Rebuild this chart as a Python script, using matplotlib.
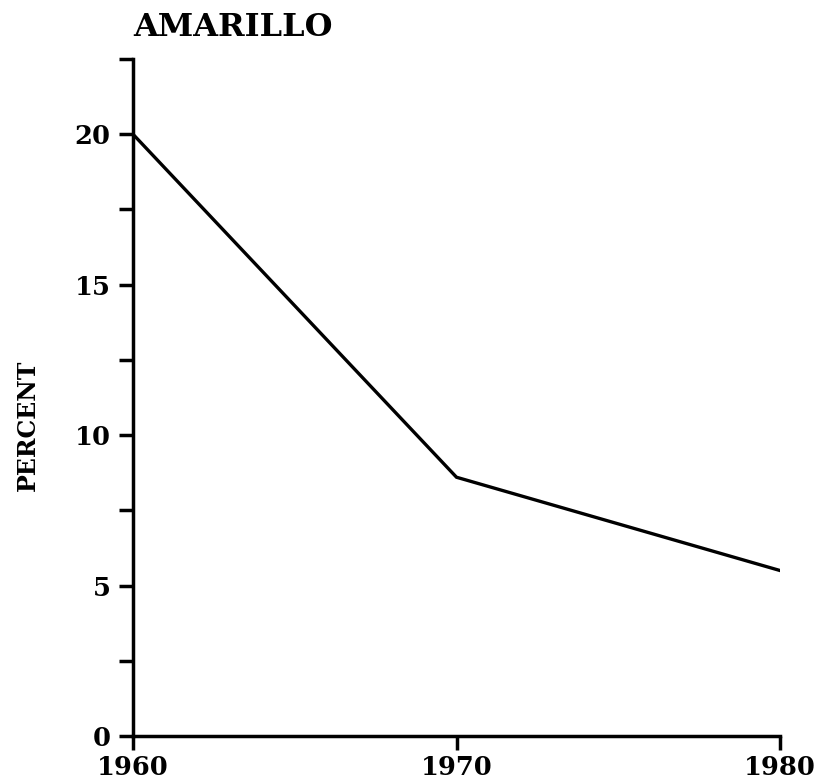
import matplotlib
matplotlib.use("Agg")
import matplotlib.pyplot as plt
from matplotlib.ticker import MultipleLocator

years = [1960, 1970, 1980]
percent = [20.0, 8.6, 5.5]
title = "AMARILLO"
ylabel = "PERCENT"
xticks = [1960, 1970, 1980]
yticks = [0, 5, 10, 15, 20]

fam = ["DejaVu Serif"]
fig = plt.figure(figsize=(8.2, 7.84), dpi=100)
ax = fig.add_axes([133/820, 48/784, (780-133)/820, (736-59)/784])
ax.plot(years, percent, color="black", lw=2.4, solid_joinstyle="miter")
ax.set_xlim(1960, 1980)
ax.set_ylim(0, 22.5)
for s in ["top", "right"]:
    ax.spines[s].set_visible(False)
for s in ["left", "bottom"]:
    ax.spines[s].set_linewidth(2.5)
ax.set_xticks(xticks)
ax.set_xticklabels([str(x) for x in xticks])
ax.set_yticks(yticks)
ax.set_yticklabels([str(y) for y in yticks])
ax.yaxis.set_minor_locator(MultipleLocator(2.5))
ax.tick_params(axis="both", which="both", direction="out", length=10, width=2.5, color="black")
ax.tick_params(axis="y", pad=6)
ax.tick_params(axis="x", pad=4)
for lab in ax.get_xticklabels() + ax.get_yticklabels():
    lab.set_fontfamily(fam)
    lab.set_fontweight("bold")
    lab.set_fontsize(18.5)
fig.text(133/820, 1 - 28/784, title, fontfamily=fam, fontweight="bold", fontsize=23,
         ha="left", va="center")
fig.text(28/820, 1 - 425/784, ylabel, fontfamily=fam, fontweight="bold", fontsize=17,
         ha="center", va="center", rotation=90)
fig.savefig("out.png", dpi=100)
